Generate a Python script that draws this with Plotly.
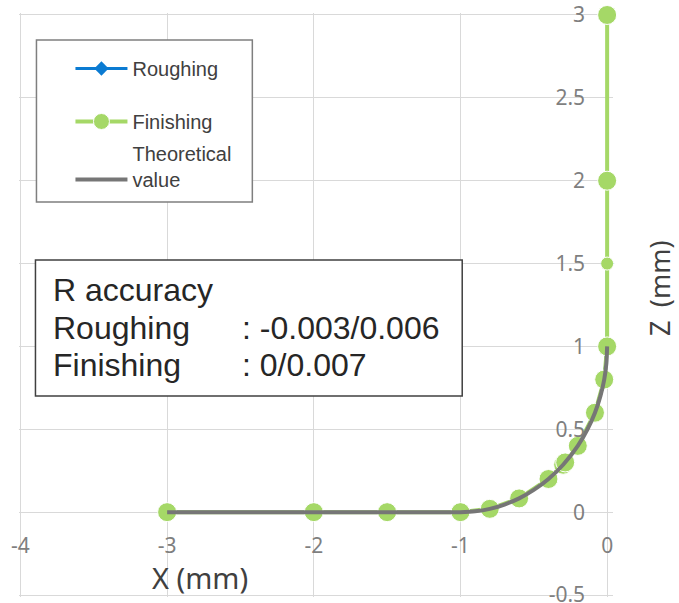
import plotly.graph_objects as go

# ---------------- data ----------------
rough_x = [-3, -2, -1.5, -1, -0.8, -0.6, -0.4, -0.3, -0.286, -0.2, -0.083, -0.02, 0, 0]
rough_z = [0, -0.003, -0.002, -0.001, 0.018, 0.08, 0.197, 0.283, 0.298, 0.397, 0.597, 0.797, 0.998, 1.5]

fin_x = [-3, -2, -1.5, -1, -0.8, -0.6, -0.4, -0.3, -0.286, -0.2, -0.083, -0.02, 0, 0, 0, 0]
fin_z = [0, 0, 0, 0, 0.02, 0.083, 0.2, 0.286, 0.3, 0.4, 0.6, 0.8, 1, 1.5, 2, 3]
fin_sizes = [19, 19, 19, 19, 19, 19, 19, 19, 19, 19, 19, 19, 19, 13, 19, 19]

theo_x = [-3, -1, -0.9, -0.8, -0.7, -0.6, -0.5, -0.4, -0.3, -0.2, -0.134, -0.083, -0.046, -0.02, -0.005, 0]
theo_z = [0, 0, 0.005, 0.02, 0.046, 0.083, 0.134, 0.2, 0.286, 0.4, 0.5, 0.6, 0.7, 0.8, 0.9, 1]

x_tickvals = [-4, -3, -2, -1, 0]
x_ticktext = ["-4", "-3", "-2", "-1", "0"]
y_tickvals = [-0.5, 0, 0.5, 1, 1.5, 2, 2.5, 3]
y_ticktext = ["-0.5", "0", "0.5", "1", "1.5", "2", "2.5", "3"]

x_min, x_max = -4, 0
y_min, y_max = -0.5, 3
x_pad_l, x_pad_r = 0.01, 0.04   # small extra room so edge lines are not clipped
y_pad = 0.012

names = ["Roughing", "Finishing", "Theoretical<br>value"]
box_left = ["R accuracy", "Roughing", "Finishing"]
box_right = [": -0.003/0.006", ": 0/0.007"]

# ---------------- figure ----------------
W, H = 679, 603
X_LEFT_PX, X_ZERO_PX = 20, 607       # pixel of x=-4 and x=0
Y_TOP_PX, Y_BOT_PX = 15, 595         # pixel of y=3 and y=-0.5
ppx = (X_ZERO_PX - X_LEFT_PX) / (x_max - x_min)
ppy = (Y_BOT_PX - Y_TOP_PX) / (y_max - y_min)
ML = X_LEFT_PX - x_pad_l * ppx
MR = W - (X_ZERO_PX + x_pad_r * ppx)
MT = Y_TOP_PX - y_pad * ppy
MB = H - (Y_BOT_PX + y_pad * ppy)
PW, PH = W - ML - MR, H - MT - MB
xr = [x_min - x_pad_l, x_max + x_pad_r]
yr = [y_min - y_pad, y_max + y_pad]


def fx(px):
    return (px - ML) / PW


def fy(py):
    return (H - MB - py) / PH


fig = go.Figure()
fig.add_trace(go.Scatter(
    x=rough_x, y=rough_z, name=names[0], mode="lines+markers",
    line=dict(color="#0B7BD2", width=3),
    marker=dict(symbol="diamond", size=11, color="#0B7BD2", opacity=1),
    legendgroup="a", legend="legend", cliponaxis=False))
fig.add_trace(go.Scatter(
    x=fin_x, y=fin_z, name=names[1], mode="lines+markers",
    line=dict(color="#A5D867", width=4),
    marker=dict(symbol="circle", size=fin_sizes, color="#A5D867", opacity=1),
    legendgroup="b", legend="legend", cliponaxis=False))
fig.add_trace(go.Scatter(
    x=theo_x, y=theo_z, name=names[2], mode="lines",
    line=dict(color="#767676", width=4, shape="spline", smoothing=0.6),
    legendgroup="c", legend="legend2"))

tick_font = dict(family="Noto Sans, Open Sans, sans-serif", size=21, color="#7f7f7f")
legend_font = dict(family="Liberation Sans, Arial, sans-serif", size=20, color="#404040")
legend_common = dict(xanchor="left", yanchor="top", borderwidth=0,
                     bgcolor="rgba(0,0,0,0)", font=legend_font,
                     itemwidth=52, indentation=33, traceorder="grouped")

fig.update_layout(
    width=W, height=H,
    margin=dict(l=ML, r=MR, t=MT, b=MB, pad=0, autoexpand=False),
    paper_bgcolor="white", plot_bgcolor="white",
    showlegend=True,
    legend=dict(x=fx(37), y=fy(49), tracegroupgap=24, **legend_common),
    legend2=dict(x=fx(37), y=fy(134), valign="bottom", **legend_common),
    xaxis=dict(
        range=xr, tickvals=x_tickvals, ticktext=x_ticktext,
        anchor="free", position=(0 - yr[0]) / (yr[1] - yr[0]), automargin=False,
        showgrid=True, gridcolor="#d9d9d9", gridwidth=1.3,
        zeroline=False, showline=False, ticks="",
        ticklabelstandoff=19, ticklabeloverflow="allow", tickfont=tick_font),
    yaxis=dict(
        range=yr, tickvals=y_tickvals, ticktext=y_ticktext,
        anchor="free", position=(0 - xr[0]) / (xr[1] - xr[0]), side="left",
        automargin=False,
        showgrid=True, gridcolor="#d9d9d9", gridwidth=1.3,
        zeroline=False, showline=False, ticks="",
        ticklabelstandoff=22, ticklabeloverflow="allow", tickfont=tick_font),
)

# legend frame
fig.add_shape(type="rect", xref="paper", yref="paper",
              x0=fx(36), x1=fx(252), y0=fy(202), y1=fy(40),
              line=dict(color="#7f7f7f", width=1.5), fillcolor="white", layer="above")

# R accuracy text box
fig.add_shape(type="rect", xref="paper", yref="paper",
              x0=fx(35), x1=fx(462), y0=fy(396), y1=fy(260),
              line=dict(color="#404040", width=1.5), fillcolor="white", layer="above")
box_font = dict(family="Liberation Sans, Arial, sans-serif", size=32, color="#262626")
for i, t in enumerate(box_left):
    fig.add_annotation(xref="paper", yref="paper", x=fx(51), y=fy(290 + i * 37.5),
                       text=t, showarrow=False, xanchor="left", yanchor="middle",
                       font=box_font)
for i, t in enumerate(box_right):
    fig.add_annotation(xref="paper", yref="paper", x=fx(240), y=fy(327.5 + i * 37.5),
                       text=t, showarrow=False, xanchor="left", yanchor="middle",
                       font=box_font)

title_font = dict(family="Noto Sans, Open Sans, sans-serif", size=29, color="#404040")
fig.add_annotation(xref="paper", yref="paper", x=fx(200), y=fy(577),
                   text="X (mm)", showarrow=False, xanchor="center", yanchor="middle",
                   font=title_font)
fig.add_annotation(xref="paper", yref="paper", x=fx(660), y=fy(288),
                   text="Z\u2002(mm)", showarrow=False, textangle=-90,
                   xanchor="center", yanchor="middle",
                   font=dict(family="Noto Sans, Open Sans, sans-serif", size=27, color="#404040"))

fig.write_html("out.html")
